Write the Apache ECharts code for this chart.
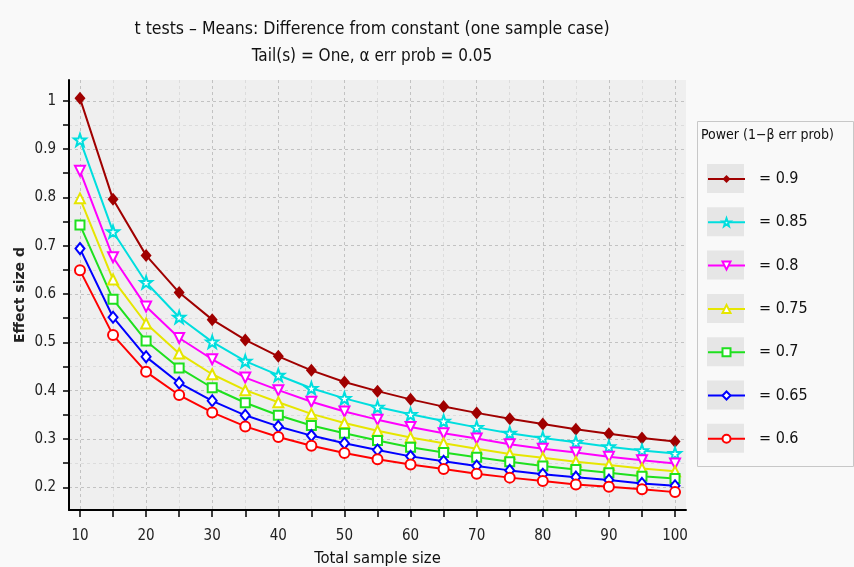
<!DOCTYPE html>
<html>
<head>
<meta charset="utf-8">
<script src="https://cdn.jsdelivr.net/npm/echarts@6/dist/echarts.min.js"></script>
<style>
html, body { margin: 0; padding: 0; background: #f9f9f9; }
#main { width: 854px; height: 567px; }
</style>
</head>
<body>
<div id="main"></div>
<script>
// total sample size N
var sampleSizes = [10, 15, 20, 25, 30, 35, 40, 45, 50, 55, 60, 65, 70, 75, 80, 85, 90, 95, 100];

// effect size d, one array per power level
var power90 = [1.005, 0.796, 0.680, 0.603, 0.547, 0.505, 0.471, 0.442, 0.418, 0.399, 0.382, 0.367, 0.354, 0.342, 0.331, 0.320, 0.311, 0.302, 0.295];
var power85 = [0.919, 0.729, 0.624, 0.552, 0.501, 0.461, 0.432, 0.405, 0.384, 0.366, 0.351, 0.337, 0.324, 0.312, 0.302, 0.293, 0.284, 0.276, 0.270];
var power80 = [0.855, 0.676, 0.574, 0.509, 0.465, 0.427, 0.401, 0.377, 0.357, 0.340, 0.325, 0.312, 0.301, 0.289, 0.280, 0.272, 0.263, 0.256, 0.249];
var power75 = [0.798, 0.630, 0.539, 0.477, 0.434, 0.401, 0.376, 0.352, 0.333, 0.317, 0.303, 0.291, 0.280, 0.269, 0.261, 0.253, 0.246, 0.239, 0.233];
var power70 = [0.743, 0.589, 0.503, 0.447, 0.406, 0.375, 0.349, 0.328, 0.312, 0.297, 0.283, 0.272, 0.262, 0.253, 0.244, 0.237, 0.230, 0.223, 0.218];
var power65 = [0.694, 0.552, 0.470, 0.416, 0.379, 0.349, 0.326, 0.307, 0.291, 0.277, 0.264, 0.254, 0.244, 0.235, 0.227, 0.221, 0.215, 0.208, 0.203];
var power60 = [0.649, 0.515, 0.439, 0.391, 0.355, 0.326, 0.304, 0.286, 0.271, 0.258, 0.247, 0.238, 0.228, 0.220, 0.213, 0.206, 0.201, 0.196, 0.190];

var legendNames = ['= 0.9', '= 0.85', '= 0.8', '= 0.75', '= 0.7', '= 0.65', '= 0.6'];

var xTicks = [10, 15, 20, 25, 30, 35, 40, 45, 50, 55, 60, 65, 70, 75, 80, 85, 90, 95, 100];
var xLabels = [10, 20, 30, 40, 50, 60, 70, 80, 90, 100];
var yTicks = [0.2, 0.25, 0.3, 0.35, 0.4, 0.45, 0.5, 0.55, 0.6, 0.65, 0.7, 0.75, 0.8, 0.85, 0.9, 0.95, 1];
var yLabels = [0.2, 0.3, 0.4, 0.5, 0.6, 0.7, 0.8, 0.9, 1];

var FONT = '"Liberation Sans Narrow", "DejaVu Sans Condensed", sans-serif';
var STAR = 'path://M50 0 L61.8 33.8 L97.6 34.5 L69 56.2 L79.4 90.5 L50 70 L20.6 90.5 L31 56.2 L2.4 34.5 L38.2 33.8 Z';

function pairs(vals) {
    return sampleSizes.map(function (n, i) { return [n, vals[i]]; });
}

function line(name, vals, color, symbol, size, filled, rotate) {
    return {
        name: name,
        type: 'line',
        data: pairs(vals),
        symbol: symbol,
        symbolSize: size,
        symbolRotate: rotate || 0,
        showAllSymbol: true,
        smooth: false,
        lineStyle: { color: color, width: 2 },
        itemStyle: {
            color: filled ? color : '#ffffff',
            borderColor: color,
            borderWidth: filled ? 0 : 2
        },
        emphasis: { disabled: true }
    };
}

var series = [
    line(legendNames[0], power90, '#a00000', 'diamond', [11, 13], true),
    line(legendNames[1], power85, '#00dede', STAR, 12, false),
    line(legendNames[2], power80, '#ff00ff', 'triangle', 10, false, 180),
    line(legendNames[3], power75, '#e6e600', 'triangle', 10, false),
    line(legendNames[4], power70, '#1ee01e', 'rect', 9, false),
    line(legendNames[5], power65, '#0000ff', 'diamond', [9, 11], false),
    line(legendNames[6], power60, '#ff0000', 'circle', 10, false)
];

// grey swatch behind each legend icon
var swatches = legendNames.map(function (n, i) {
    return {
        type: 'rect',
        left: 707,
        top: 164 + i * 43.3,
        shape: { width: 37, height: 29 },
        style: { fill: '#e6e6e6' },
        z: 1
    };
});

var chart = echarts.init(document.getElementById('main'));
chart.setOption({
    backgroundColor: '#f9f9f9',
    animation: false,
    title: {
        text: 't tests – Means: Difference from constant (one sample case)',
        subtext: 'Tail(s) = One, α err prob = 0.05',
        left: 367,
        top: 15,
        textAlign: 'center',
        itemGap: 10,
        textStyle: { fontFamily: FONT, fontSize: 17.5, fontWeight: 'normal', color: '#111' },
        subtextStyle: { fontFamily: FONT, fontSize: 17, color: '#111' }
    },
    grid: {
        left: 69, right: 168, top: 80, bottom: 57,
        containLabel: false,
        outerBoundsMode: 'none',
        show: true,
        backgroundColor: '#efefef',
        borderWidth: 0
    },
    xAxis: {
        type: 'value',
        min: 8.34,
        max: 101.66,
        name: 'Total sample size',
        nameLocation: 'middle',
        nameGap: 40,
        nameMoveOverlap: false,
        nameTextStyle: { fontFamily: FONT, fontSize: 16.5, color: '#111' },
        axisLine: { show: true, onZero: false, lineStyle: { color: '#000', width: 2 } },
        axisTick: { show: true, customValues: xTicks, length: 7, lineStyle: { color: '#000', width: 1.5 } },
        axisLabel: { customValues: xLabels, margin: 19, fontFamily: FONT, fontSize: 15, color: '#222' },
        splitLine: { show: true, lineStyle: { color: ['#c2c2c2', '#dcdcdc'], type: [3, 3], width: 1 } }
    },
    yAxis: {
        type: 'value',
        min: 0.153,
        max: 1.043,
        name: 'Effect size d',
        nameLocation: 'middle',
        nameGap: 42,
        nameMoveOverlap: false,
        nameTextStyle: { fontFamily: 'DejaVu Sans', fontSize: 14, fontWeight: 'bold', color: '#222' },
        axisLine: { show: true, onZero: false, lineStyle: { color: '#000', width: 2 } },
        axisTick: { show: true, customValues: yTicks, length: 6, lineStyle: { color: '#000', width: 1.5 } },
        axisLabel: { customValues: yLabels, margin: 13, fontFamily: FONT, fontSize: 15, color: '#222' },
        splitLine: { show: true, lineStyle: { color: ['#c2c2c2', '#dcdcdc'], type: [3, 3], width: 1 } }
    },
    legend: {
        orient: 'vertical',
        left: 707,
        top: 171,
        padding: 0,
        itemWidth: 37,
        itemHeight: 10,
        itemGap: 27.3,
        selectedMode: false,
        data: legendNames,
        textStyle: { fontFamily: FONT, fontSize: 16, lineHeight: 16, color: '#111', padding: [0, 0, 0, 9] }
    },
    graphic: [
        {
            type: 'rect',
            left: 697,
            top: 121,
            shape: { width: 156, height: 345 },
            style: { fill: '#f9f9f9', stroke: '#c8c8c8', lineWidth: 1 },
            z: 0
        },
        {
            type: 'text',
            left: 701,
            top: 128,
            style: { text: 'Power (1−β err prob)', font: '14px ' + FONT, fill: '#111' },
            z: 1
        }
    ].concat(swatches),
    series: series
});
</script>
</body>
</html>
